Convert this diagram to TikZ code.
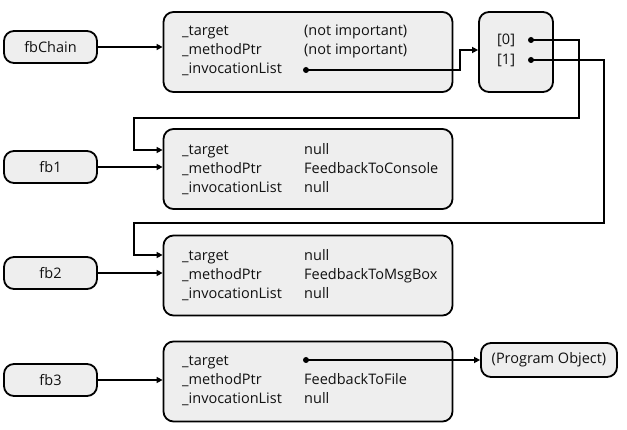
\documentclass[tikz,border=0pt]{standalone}
\usepackage{fontspec}
\setmainfont{Open Sans}
\usetikzlibrary{arrows.meta}
\definecolor{boxfill}{HTML}{EEEEEE}
\definecolor{txt}{HTML}{111111}
\tikzset{
  objbox/.style={draw=black, line width=1.8pt, fill=boxfill, rounded corners=10pt, inner sep=0pt},
  refbox/.style={draw=black, line width=1.8pt, fill=boxfill, rounded corners=10pt, minimum width=93pt, minimum height=32pt, inner sep=0pt, font=\fontsize{14.5}{16}\selectfont, text=txt},
  lbl/.style={anchor=base west, inner sep=0pt, font=\fontsize{14.5}{16}\selectfont, text=txt},
  conn/.style={line width=1.8pt, -{Triangle[length=6pt,width=6pt]}},
  dot/.style={circle, fill=black, inner sep=0pt, minimum size=6pt},
}
\begin{document}
\begin{tikzpicture}[x=1pt,y=-1pt]
\useasboundingbox (0,0) rectangle (627,430);
% left reference boxes
\node[refbox] (fbc) at (50.5,47) {fbChain};
\node[refbox] (fb1) at (50.5,167) {fb1};
\node[refbox] (fb2) at (50.5,273) {fb2};
\node[refbox] (fb3) at (50.5,380) {fb3};
% object boxes
\node[objbox, minimum width=289pt, minimum height=80pt] (b0) at (308,52) {};
\node[objbox, minimum width=289pt, minimum height=80pt] (b1) at (308,169) {};
\node[objbox, minimum width=289pt, minimum height=80pt] (b2) at (308,275.5) {};
\node[objbox, minimum width=289pt, minimum height=80pt] (b3) at (308,381.5) {};
\node[objbox, minimum width=74pt, minimum height=80pt] (arr) at (516,52) {};
\node[refbox, minimum width=136pt, minimum height=34pt] (prog) at (549,360) {(Program Object)};
% box 0
\node[lbl] (t0) at (182,36) {\_target};
\node[lbl] (m0) at (182,55) {\_methodPtr};
\node[lbl] (i0) at (182,74) {\_invocationList};
\node[lbl] (tv0) at (304,36) {(not important)};
\node[lbl] (mv0) at (304,55) {(not important)};
\node[dot] (iv0) at (306,70) {};
% array
\node[lbl] (a0) at (497,45) {[0]};
\node[lbl] (a1) at (497,65) {[1]};
\node[dot] (d0) at (531,40) {};
\node[dot] (d1) at (531,60) {};
% box 1
\node[lbl] (t1) at (182,155) {\_target};
\node[lbl] (m1) at (182,174) {\_methodPtr};
\node[lbl] (i1) at (182,193) {\_invocationList};
\node[lbl] (tv1) at (304,155) {null};
\node[lbl] (mv1) at (304,174) {FeedbackToConsole};
\node[lbl] (iv1) at (304,193) {null};
% box 2
\node[lbl] (t2) at (182,261) {\_target};
\node[lbl] (m2) at (182,280) {\_methodPtr};
\node[lbl] (i2) at (182,299) {\_invocationList};
\node[lbl] (tv2) at (304,261) {null};
\node[lbl] (mv2) at (304,280) {FeedbackToMsgBox};
\node[lbl] (iv2) at (304,299) {null};
% box 3
\node[lbl] (t3) at (182,366) {\_target};
\node[lbl] (m3) at (182,385) {\_methodPtr};
\node[lbl] (i3) at (182,404) {\_invocationList};
\node[dot] (tv3) at (306,360) {};
\node[lbl] (mv3) at (304,385) {FeedbackToFile};
\node[lbl] (iv3) at (304,404) {null};
% turn points
\coordinate (j0) at (460,50);
\coordinate (r0) at (579,118);
\coordinate (r1) at (604,223);
\coordinate (xl) at (134,0);
\coordinate (e1) at (0,150);
\coordinate (e2) at (0,255);
% connectors
\draw[conn] (fbc.east) -- (fbc.east -| b0.west);
\draw[conn] (fb1.east) -- (fb1.east -| b1.west);
\draw[conn] (fb2.east) -- (fb2.east -| b2.west);
\draw[conn] (fb3.east) -- (fb3.east -| b3.west);
\draw[conn] (iv0.center) -| (j0) -- (j0 -| arr.west);
\draw[conn] (d0.center) -| (r0) -- (r0 -| xl) |- (e1 -| b1.west);
\draw[conn] (d1.center) -| (r1) -- (r1 -| xl) |- (e2 -| b2.west);
\draw[conn] (tv3.center) -- (tv3.center -| prog.west);
\end{tikzpicture}
\end{document}
